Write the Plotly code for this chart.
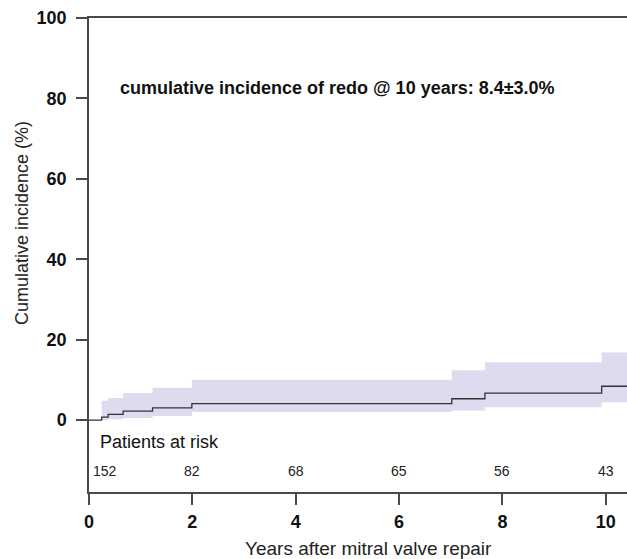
import plotly.graph_objects as go

# Data
times = [0, 0.245, 0.37, 0.66, 1.23, 1.99, 7.02, 7.66, 9.92, 10.45]
estimate = [0, 0.7, 1.4, 2.2, 3.0, 4.1, 5.3, 6.7, 8.4, 8.4]
upper = [0, 4.8, 5.5, 6.7, 8.0, 10.0, 12.4, 14.4, 16.8, 16.8]
lower = [0, 0.0, 0.2, 0.5, 1.0, 2.0, 2.4, 3.2, 4.4, 4.4]

risk_times = [0, 2, 4, 6, 8, 10]
risk_counts = [152, 82, 68, 65, 56, 43]

x_ticks = [0, 2, 4, 6, 8, 10]
y_ticks = [0, 20, 40, 60, 80, 100]

FONT = "Liberation Sans, Arial, Helvetica, sans-serif"
AXC = "#4a4a4a"
BAND = "rgb(220,220,238)"

fig = go.Figure()
fig.add_trace(go.Scatter(x=times, y=lower, mode="lines", line=dict(width=0, shape="hv"),
                         hoverinfo="skip", showlegend=False))
fig.add_trace(go.Scatter(x=times, y=upper, mode="lines", line=dict(width=0, shape="hv"),
                         fill="tonexty", fillcolor=BAND, hoverinfo="skip", showlegend=False))
fig.add_trace(go.Scatter(x=times, y=estimate, mode="lines",
                         line=dict(color="#333333", width=1.3, shape="hv"), showlegend=False))

annotations = [
    dict(text="<b>cumulative incidence of redo @ 10 years: 8.4±3.0%</b>", x=0.567, y=82.6,
         xref="x", yref="y", xanchor="left", yanchor="middle", showarrow=False,
         font=dict(family=FONT, size=18, color="#111")),
    dict(text="Patients at risk", x=0.17, y=-5.4, xref="x", yref="y", xanchor="left",
         yanchor="middle", showarrow=False, font=dict(family=FONT, size=18, color="#111")),
    dict(text="Cumulative incidence (%)", x=0, xref="paper", xshift=-67, y=49, yref="y",
         textangle=-90, showarrow=False, xanchor="center", yanchor="middle",
         font=dict(family=FONT, size=18, color="#222")),
    dict(text="Years after mitral valve repair", x=0.52, y=-0.12, xref="paper", yref="paper",
         xanchor="center", yanchor="middle", showarrow=False,
         font=dict(family=FONT, size=19, color="#222")),
]
for i, (t, n) in enumerate(zip(risk_times, risk_counts)):
    if i == 0:
        annotations.append(dict(text=str(n), x=t, y=-12.6, xref="x", yref="y", xanchor="left",
                                xshift=2, yanchor="middle", showarrow=False,
                                font=dict(family=FONT, size=14, color="#222")))
    else:
        annotations.append(dict(text=str(n), x=t, y=-12.6, xref="x", yref="y", xanchor="center",
                                yanchor="middle", showarrow=False,
                                font=dict(family=FONT, size=14, color="#222")))

fig.update_layout(
    width=627, height=559,
    margin=dict(l=89, r=0, t=18, b=67, autoexpand=False),
    paper_bgcolor="white", plot_bgcolor="white",
    annotations=annotations,
    xaxis=dict(range=[0, 10.41], tickvals=x_ticks, ticks="outside", ticklen=11, tickwidth=1.5,
               tickcolor=AXC, showline=True, linecolor=AXC, linewidth=1.5, mirror=True,
               showgrid=False, zeroline=False, ticklabelstandoff=2,
               tickfont=dict(family=FONT, size=18, color="#111", weight="bold")),
    xaxis2=dict(range=[0, 10.41], overlaying="x", anchor="free", position=0.1357, side="bottom",
                tickvals=[4, 6, 8, 10], ticks="outside", ticklen=11, tickwidth=1.5, tickcolor=AXC,
                showline=True, linecolor=AXC, linewidth=1.5, showticklabels=False,
                showgrid=False, zeroline=False),
    yaxis=dict(range=[-17.9, 100], tickvals=y_ticks, ticks="outside", ticklen=11, tickwidth=1.5,
               tickcolor=AXC, showline=True, linecolor=AXC, linewidth=1.5, showgrid=False,
               zeroline=False, ticklabelstandoff=6,
               tickfont=dict(family=FONT, size=18, color="#111", weight="bold")),
)

fig.write_html("out.html", config={"displayModeBar": False},
               post_script="document.body.style.margin='0';document.body.style.overflow='hidden';")
